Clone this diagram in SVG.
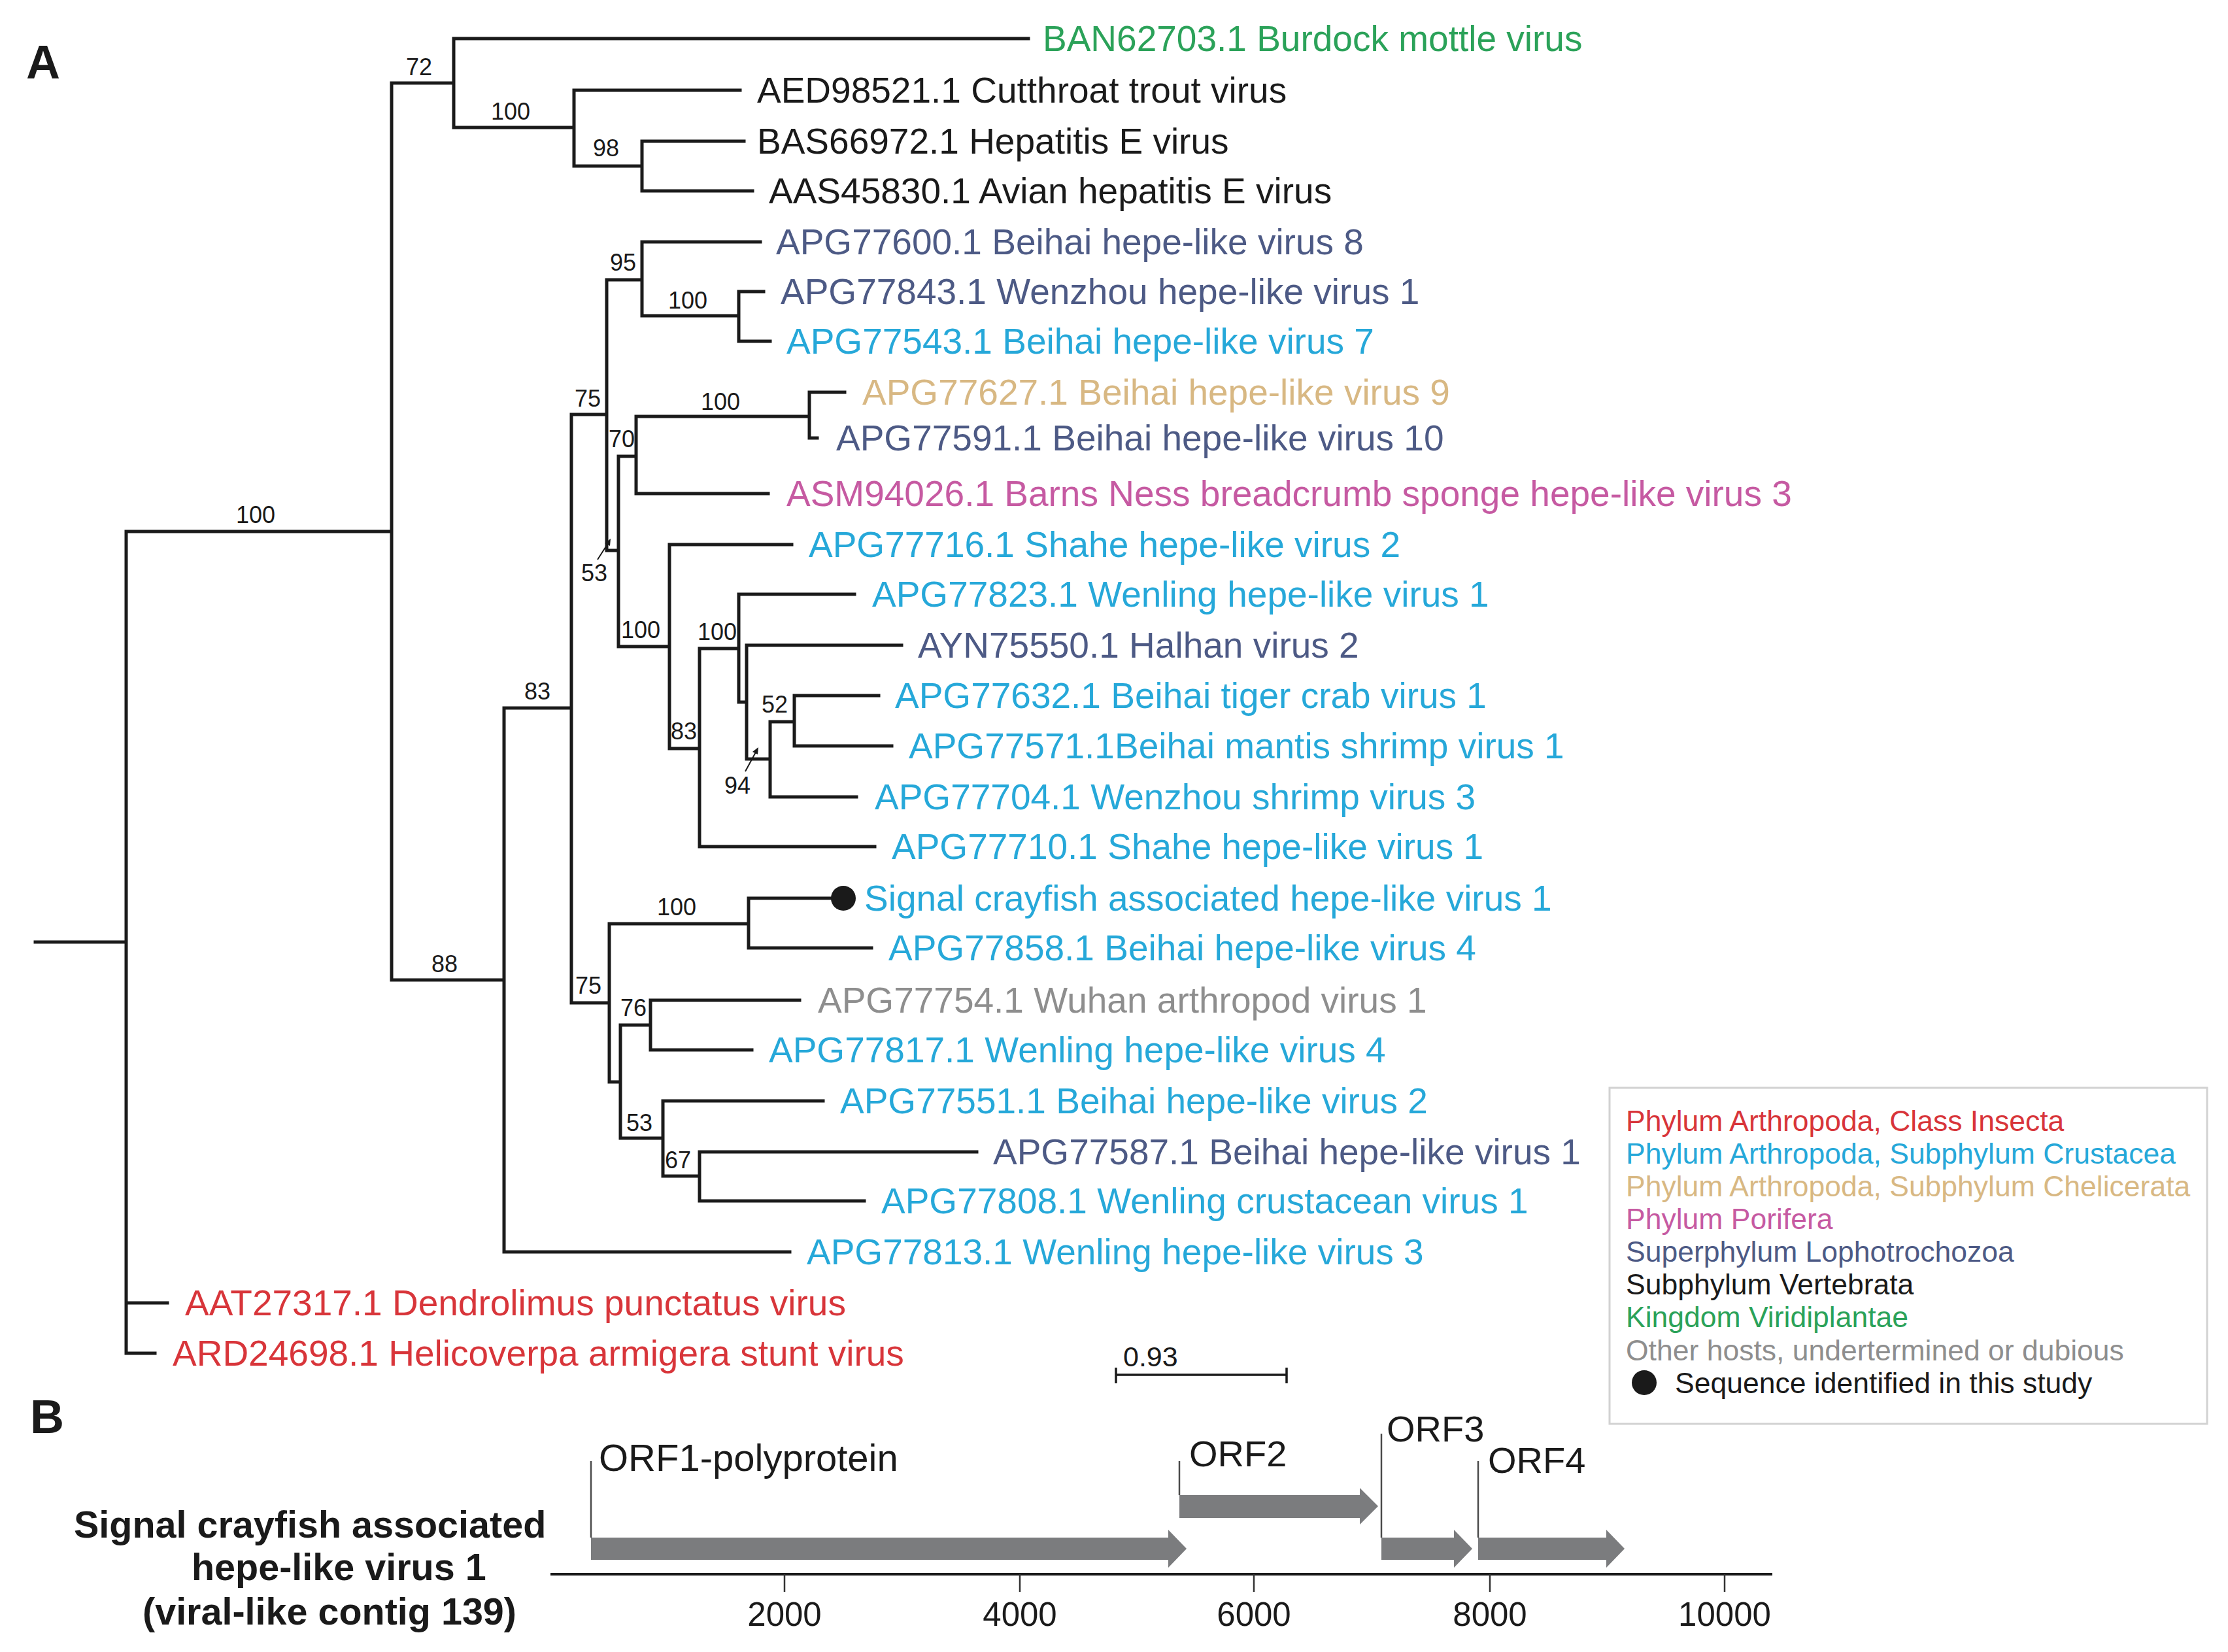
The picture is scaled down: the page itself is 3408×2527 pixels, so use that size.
<svg xmlns="http://www.w3.org/2000/svg" width="3408" height="2527" viewBox="0 0 3408 2527">
<style>
text{font-family:"Liberation Sans",Arial,sans-serif}
.br{stroke:#1a1a1a;stroke-width:5;fill:none;stroke-linecap:square}
.tip{font-size:55px}
.orft{font-size:56px}
.bs{font-size:36px;fill:#1a1a1a;text-anchor:middle}
.k{fill:#1a1a1a}.g{fill:#2ba259}.s{fill:#4d5a85}.c{fill:#26a8d9}.t{fill:#d8b883}.p{fill:#c65aa2}.r{fill:#d8353a}.o{fill:#8e8e8e}
.lg{font-size:44.5px}
.orf{fill:#7b7c7e}
.ol{stroke:#4a4a4a;stroke-width:2.5}
.num{font-size:51px;fill:#1a1a1a;text-anchor:middle}
.lab{font-size:57.5px;fill:#1a1a1a;font-weight:bold}
</style>
<rect width="3408" height="2527" fill="#ffffff"/>
<text x="40" y="120" font-size="72" font-weight="bold" class="k">A</text>
<text x="46" y="2192" font-size="72" font-weight="bold" class="k">B</text>
<g id="connectors">
<path class="br" d="M54 1441H193M193 813V2070M193 2070H237M193 1993H256M193 813H599
M599 127V1499M599 127H694M599 1499H771
M694 59V195M694 59H1573M694 195H878
M878 138V254M878 138H1132M878 254H982
M982 216V292M982 216H1138M982 292H1151
M771 1083V1915M771 1083H874M771 1915H1208
M874 634V1534M874 634H928M874 1534H932
M928 428V842M928 428H982M928 842H946
M982 370V483M982 370H1163M982 483H1130
M1130 446V522M1130 446H1168M1130 522H1178
M946 698V989M946 698H973M946 989H1024
M973 637V755M973 637H1238M973 755H1175
M1238 600V670M1238 600H1292M1238 670H1250
M1024 833V1145M1024 833H1211M1024 1145H1070
M1070 992V1295M1070 992H1130M1070 1295H1338
M1130 909V1074M1130 909H1307M1130 1074H1142
M1142 987V1161M1142 987H1379M1142 1161H1178
M1178 1104V1219M1178 1104H1215M1178 1219H1310
M1215 1064V1141M1215 1064H1344M1215 1141H1364
M932 1413V1655M932 1413H1145M932 1655H949
M1145 1374V1450M1145 1374H1285M1145 1450H1333
M949 1568V1741M949 1568H995M949 1741H1014
M995 1530V1606M995 1530H1223M995 1606H1150
M1014 1684V1799M1014 1684H1259M1014 1799H1070
M1070 1762V1837M1070 1762H1494M1070 1837H1322"/>
<path d="M914 856L932 828M1140 1180L1158 1147" stroke="#1a1a1a" stroke-width="2" fill="none"/>
<path d="M934 824L925 831L933 835Z M1160 1143L1151 1150L1159 1154Z" fill="#1a1a1a"/>
</g>
<g id="support">
<text class="bs" x="641" y="115">72</text>
<text class="bs" x="781" y="183">100</text>
<text class="bs" x="927" y="239">98</text>
<text class="bs" x="391" y="800">100</text>
<text class="bs" x="953" y="414">95</text>
<text class="bs" x="1052" y="472">100</text>
<text class="bs" x="899" y="622">75</text>
<text class="bs" x="1102" y="627">100</text>
<text class="bs" x="951" y="684">70</text>
<text class="bs" x="909" y="889">53</text>
<text class="bs" x="980" y="976">100</text>
<text class="bs" x="1097" y="979">100</text>
<text class="bs" x="822" y="1070" font-size="41">83</text>
<text class="bs" x="1185" y="1090">52</text>
<text class="bs" x="1046" y="1131">83</text>
<text class="bs" x="1128" y="1214">94</text>
<text class="bs" x="1035" y="1400">100</text>
<text class="bs" x="680" y="1487">88</text>
<text class="bs" x="900" y="1520">75</text>
<text class="bs" x="969" y="1554">76</text>
<text class="bs" x="978" y="1730">53</text>
<text class="bs" x="1037" y="1787">67</text>
</g>
<g id="tip-BAN62703"><text class="tip g" x="1595" y="78">BAN62703.1 Burdock mottle virus</text></g>
<g id="tip-AED98521"><text class="tip k" x="1158" y="157">AED98521.1 Cutthroat trout virus</text></g>
<g id="tip-BAS66972"><text class="tip k" x="1158" y="235">BAS66972.1 Hepatitis E virus</text></g>
<g id="tip-AAS45830"><text class="tip k" x="1176" y="311">AAS45830.1 Avian hepatitis E virus</text></g>
<g id="tip-APG77600"><text class="tip s" x="1187" y="389">APG77600.1 Beihai hepe-like virus 8</text></g>
<g id="tip-APG77843"><text class="tip s" x="1194" y="465">APG77843.1 Wenzhou hepe-like virus 1</text></g>
<g id="tip-APG77543"><text class="tip c" x="1203" y="541">APG77543.1 Beihai hepe-like virus 7</text></g>
<g id="tip-APG77627"><text class="tip t" x="1319" y="619">APG77627.1 Beihai hepe-like virus 9</text></g>
<g id="tip-APG77591"><text class="tip s" x="1279" y="689">APG77591.1 Beihai hepe-like virus 10</text></g>
<g id="tip-ASM94026"><text class="tip p" x="1203" y="774">ASM94026.1 Barns Ness breadcrumb sponge hepe-like virus 3</text></g>
<g id="tip-APG77716"><text class="tip c" x="1237" y="852">APG77716.1 Shahe hepe-like virus 2</text></g>
<g id="tip-APG77823"><text class="tip c" x="1334" y="928">APG77823.1 Wenling hepe-like virus 1</text></g>
<g id="tip-AYN75550"><text class="tip s" x="1404" y="1006">AYN75550.1 Halhan virus 2</text></g>
<g id="tip-APG77632"><text class="tip c" x="1369" y="1083">APG77632.1 Beihai tiger crab virus 1</text></g>
<g id="tip-APG77571"><text class="tip c" x="1390" y="1160">APG77571.1Beihai mantis shrimp virus 1</text></g>
<g id="tip-APG77704"><text class="tip c" x="1338" y="1238">APG77704.1 Wenzhou shrimp virus 3</text></g>
<g id="tip-APG77710"><text class="tip c" x="1364" y="1314">APG77710.1 Shahe hepe-like virus 1</text></g>
<g id="tip-signal"><circle cx="1290" cy="1374" r="19" fill="#1a1a1a"/><text class="tip c" x="1322" y="1393">Signal crayfish associated hepe-like virus 1</text></g>
<g id="tip-APG77858"><text class="tip c" x="1359" y="1469">APG77858.1 Beihai hepe-like virus 4</text></g>
<g id="tip-APG77754"><text class="tip o" x="1251" y="1549">APG77754.1 Wuhan arthropod virus 1</text></g>
<g id="tip-APG77817"><text class="tip c" x="1176" y="1625">APG77817.1 Wenling hepe-like virus 4</text></g>
<g id="tip-APG77551"><text class="tip c" x="1285" y="1703">APG77551.1 Beihai hepe-like virus 2</text></g>
<g id="tip-APG77587"><text class="tip s" x="1519" y="1781">APG77587.1 Beihai hepe-like virus 1</text></g>
<g id="tip-APG77808"><text class="tip c" x="1348" y="1856">APG77808.1 Wenling crustacean virus 1</text></g>
<g id="tip-APG77813"><text class="tip c" x="1234" y="1934">APG77813.1 Wenling hepe-like virus 3</text></g>
<g id="tip-AAT27317"><text class="tip r" x="283" y="2012">AAT27317.1 Dendrolimus punctatus virus</text></g>
<g id="tip-ARD24698"><text class="tip r" x="264" y="2089">ARD24698.1 Helicoverpa armigera stunt virus</text></g>
<g id="scalebar">
<path d="M1707 2103H1968M1707 2092V2116M1968 2092V2116" stroke="#1a1a1a" stroke-width="3.5" fill="none"/>
<text x="1718" y="2090" font-size="43" class="k">0.93</text>
</g>
<g id="legend">
<rect x="2462" y="1664" width="914" height="514" fill="#ffffff" stroke="#d2d2d2" stroke-width="3"/>
<text class="lg r" x="2487" y="1730">Phylum Arthropoda, Class Insecta</text>
<text class="lg c" x="2487" y="1780">Phylum Arthropoda, Subphylum Crustacea</text>
<text class="lg t" x="2487" y="1830">Phylum Arthropoda, Subphylum Chelicerata</text>
<text class="lg p" x="2487" y="1880">Phylum Porifera</text>
<text class="lg s" x="2487" y="1930">Superphylum Lophotrochozoa</text>
<text class="lg k" x="2487" y="1980">Subphylum Vertebrata</text>
<text class="lg g" x="2487" y="2030">Kingdom Viridiplantae</text>
<text class="lg o" x="2487" y="2081">Other hosts, undertermined or dubious</text>
<circle cx="2515" cy="2115" r="19" fill="#1a1a1a"/>
<text class="lg k" x="2562" y="2131">Sequence identified in this study</text>
</g>
<g id="genome-label">
<text class="lab" x="113" y="2352">Signal crayfish associated</text>
<text class="lab" x="293" y="2417">hepe-like virus 1</text>
<text class="lab" x="218" y="2485">(viral-like contig 139)</text>
</g>
<g id="axis">
<path d="M842 2408H2711" stroke="#1a1a1a" stroke-width="4"/>
<path d="M1200 2408V2435M1560 2408V2435M1918 2408V2435M2279 2408V2435M2638 2408V2435" stroke="#333" stroke-width="2.5"/>
<text class="num" x="1200" y="2487">2000</text>
<text class="num" x="1560" y="2487">4000</text>
<text class="num" x="1918" y="2487">6000</text>
<text class="num" x="2279" y="2487">8000</text>
<text class="num" x="2638" y="2487">10000</text>
</g>
<g id="orf1">
<path class="orf" d="M904 2352H1787V2340L1815 2369L1787 2398V2386H904Z"/>
<path class="ol" d="M904 2235V2352"/>
<text class="k" font-size="58" x="916" y="2250">ORF1-polyprotein</text>
</g>
<g id="orf2">
<path class="orf" d="M1804 2287H2080V2276L2108 2304L2080 2332V2322H1804Z"/>
<path class="ol" d="M1804 2235V2287"/>
<text class="orft k" x="1819" y="2243">ORF2</text>
</g>
<g id="orf3">
<path class="orf" d="M2113 2352H2224V2340L2252 2369L2224 2398V2386H2113Z"/>
<path class="ol" d="M2113 2193V2352"/>
<text class="orft k" x="2121" y="2205">ORF3</text>
</g>
<g id="orf4">
<path class="orf" d="M2261 2352H2457V2340L2485 2369L2457 2398V2386H2261Z"/>
<path class="ol" d="M2261 2235V2352"/>
<text class="orft k" x="2276" y="2253">ORF4</text>
</g>
</svg>
